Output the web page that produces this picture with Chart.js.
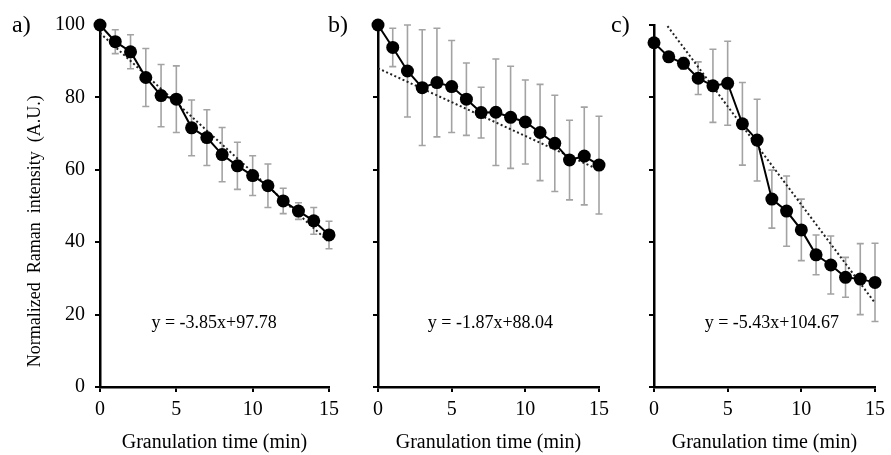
<!DOCTYPE html>
<html>
<head>
<meta charset="utf-8">
<script src="https://cdn.jsdelivr.net/npm/chart.js@4.4.0/dist/chart.umd.min.js"></script>
<style>
  body { margin: 0; background: #fff; width: 891px; height: 455px; position: relative; overflow: hidden; }
  canvas { position: absolute; top: 0; }
  .lbl { position: absolute; top: 11px; font: 24px "Liberation Serif", serif; color: #000; }
</style>
</head>
<body>
<canvas id="chartA" style="left:0px;width:345px;height:455px"></canvas>
<canvas id="chartB" style="left:340px;width:275px;height:455px"></canvas>
<canvas id="chartC" style="left:615px;width:276px;height:455px"></canvas>
<div class="lbl" style="left:12px">a)</div>
<div class="lbl" style="left:328px">b)</div>
<div class="lbl" style="left:611px">c)</div>
<script>
// Granulation time (min)
const timeMin = [0, 1, 2, 3, 4, 5, 6, 7, 8, 9, 10, 11, 12, 13, 14, 15];

// a) mean + sd
const aMean = [100, 95.4, 92.6, 85.5, 80.5, 79.5, 71.6, 68.9, 64.2, 61.1, 58.4, 55.6, 51.4, 48.6, 45.9, 42.0];
const aErr  = [0, 3.3, 4.7, 8.0, 8.6, 9.2, 7.7, 7.7, 7.5, 6.5, 5.5, 6.0, 3.5, 2.3, 3.7, 3.8];
// b)
const bMean = [100, 93.8, 87.3, 82.7, 84.1, 83.0, 79.5, 75.8, 75.9, 74.5, 73.2, 70.3, 67.3, 62.7, 63.8, 61.3];
const bErr  = [0, 5.3, 12.7, 16.0, 15.0, 12.7, 10.0, 7.0, 14.7, 14.1, 11.6, 13.3, 13.3, 11.0, 13.5, 13.5];
// c)
const cMean = [95.1, 91.2, 89.4, 85.3, 83.2, 83.9, 72.7, 68.2, 51.9, 48.6, 43.4, 36.5, 33.7, 30.3, 29.8, 28.9];
const cErr  = [0, 1.0, 1.6, 4.5, 10.1, 11.6, 11.4, 11.3, 8.0, 9.7, 8.5, 5.5, 8.0, 5.5, 9.8, 10.8];

// linear fits (value at 0 and 15 min)
const trendX = [0, 15];
const aTrend = [97.78, 40.03];
const bTrend = [88.04, 59.99];
const cTrend = [104.67, 23.22];

const eqLabels = ['y = -3.85x+97.78', 'y = -1.87x+88.04', 'y = -5.43x+104.67'];
const xTicks = [0, 5, 10, 15];
const yTicks = [0, 20, 40, 60, 80, 100];

const serif = '"Liberation Serif", "Times New Roman", serif';

// error bars, equation text, y title
const extras = {
    id: 'extras',
    beforeDatasetsDraw(chart, args, opts) {
        const ctx = chart.ctx, xs = chart.scales.x, ys = chart.scales.y;
        ctx.save();
        ctx.strokeStyle = '#a3a3a3';
        ctx.lineWidth = 1.6;
        timeMin.forEach((t, i) => {
            if (!opts.errs[i]) return;
            const px = xs.getPixelForValue(t);
            const top = ys.getPixelForValue(opts.means[i] + opts.errs[i]);
            const bot = ys.getPixelForValue(opts.means[i] - opts.errs[i]);
            ctx.beginPath();
            ctx.moveTo(px, top); ctx.lineTo(px, bot);
            ctx.moveTo(px - 3.5, top); ctx.lineTo(px + 3.5, top);
            ctx.moveTo(px - 3.5, bot); ctx.lineTo(px + 3.5, bot);
            ctx.stroke();
        });
        ctx.restore();
    },
    afterDraw(chart, args, opts) {
        const ctx = chart.ctx, xs = chart.scales.x, ys = chart.scales.y;
        ctx.save();
        ctx.fillStyle = '#000';
        ctx.font = '18px ' + serif;
        ctx.textAlign = 'center';
        ctx.textBaseline = 'middle';
        ctx.fillText(opts.eq, xs.getPixelForValue(opts.eqX), ys.getPixelForValue(17.7));
        if (opts.yTitle) {
            ctx.translate(35, ys.getPixelForValue(43));
            ctx.rotate(-Math.PI / 2);
            ctx.font = '18px ' + serif;
            ctx.fillText('Normalized  Raman  intensity  (A.U.)', 0, 0);
        }
        ctx.restore();
    }
};

function makePanel(id, means, errs, trend, eq, eqX, yWidth, padRight, showY) {
    const ctx = document.getElementById(id);
    const w = parseInt(ctx.style.width);
    ctx.width = w; ctx.height = 455;
    return new Chart(ctx, {
        type: 'line',
        data: {
            datasets: [{
                data: timeMin.map((t, i) => ({ x: t, y: means[i] })),
                borderColor: '#000',
                backgroundColor: '#000',
                borderWidth: 2,
                pointRadius: 6.5,
                pointBorderWidth: 0,
                tension: 0,
                clip: false
            }, {
                data: trendX.map((t, i) => ({ x: t, y: trend[i] })),
                borderColor: '#222',
                borderWidth: 2,
                borderDash: [2, 2.5],
                pointRadius: 0,
                tension: 0
            }]
        },
        options: {
            responsive: false,
            animation: false,
            layout: { padding: { top: 25, right: padRight, left: 0, bottom: 0 } },
            plugins: {
                legend: { display: false },
                tooltip: { enabled: false },
                extras: { means: means, errs: errs, eq: eq, eqX: eqX, yTitle: showY }
            },
            scales: {
                x: {
                    type: 'linear', min: 0, max: 15,
                    afterBuildTicks: s => { s.ticks = xTicks.map(v => ({ value: v })); },
                    afterFit: s => { s.height = 68; },
                    ticks: { font: { family: serif, size: 20 }, color: '#000', padding: 6 },
                    grid: { drawOnChartArea: false, drawTicks: true, tickLength: 5, color: '#000', lineWidth: 2 },
                    border: { color: '#000', width: 2.5 },
                    title: { display: true, text: 'Granulation time (min)', font: { family: serif, size: 20 }, color: '#000', padding: 0 }
                },
                y: {
                    min: 0, max: 100,
                    afterBuildTicks: s => { s.ticks = yTicks.map(v => ({ value: v })); },
                    afterFit: s => { s.width = yWidth; },
                    ticks: { display: showY, font: { family: serif, size: 20 }, color: '#000', padding: 10 },
                    grid: { drawOnChartArea: false, drawTicks: true, tickLength: 5, color: '#000', lineWidth: 2 },
                    border: { color: '#000', width: 2.5 }
                }
            }
        },
        plugins: [extras]
    });
}

makePanel('chartA', aMean, aErr, aTrend, eqLabels[0], 7.47, 100, 12, true);
makePanel('chartB', bMean, bErr, bTrend, eqLabels[1], 7.63, 38, 12, false);
makePanel('chartC', cMean, cErr, cTrend, eqLabels[2], 8.0, 39, 11, false);
</script>
</body>
</html>
